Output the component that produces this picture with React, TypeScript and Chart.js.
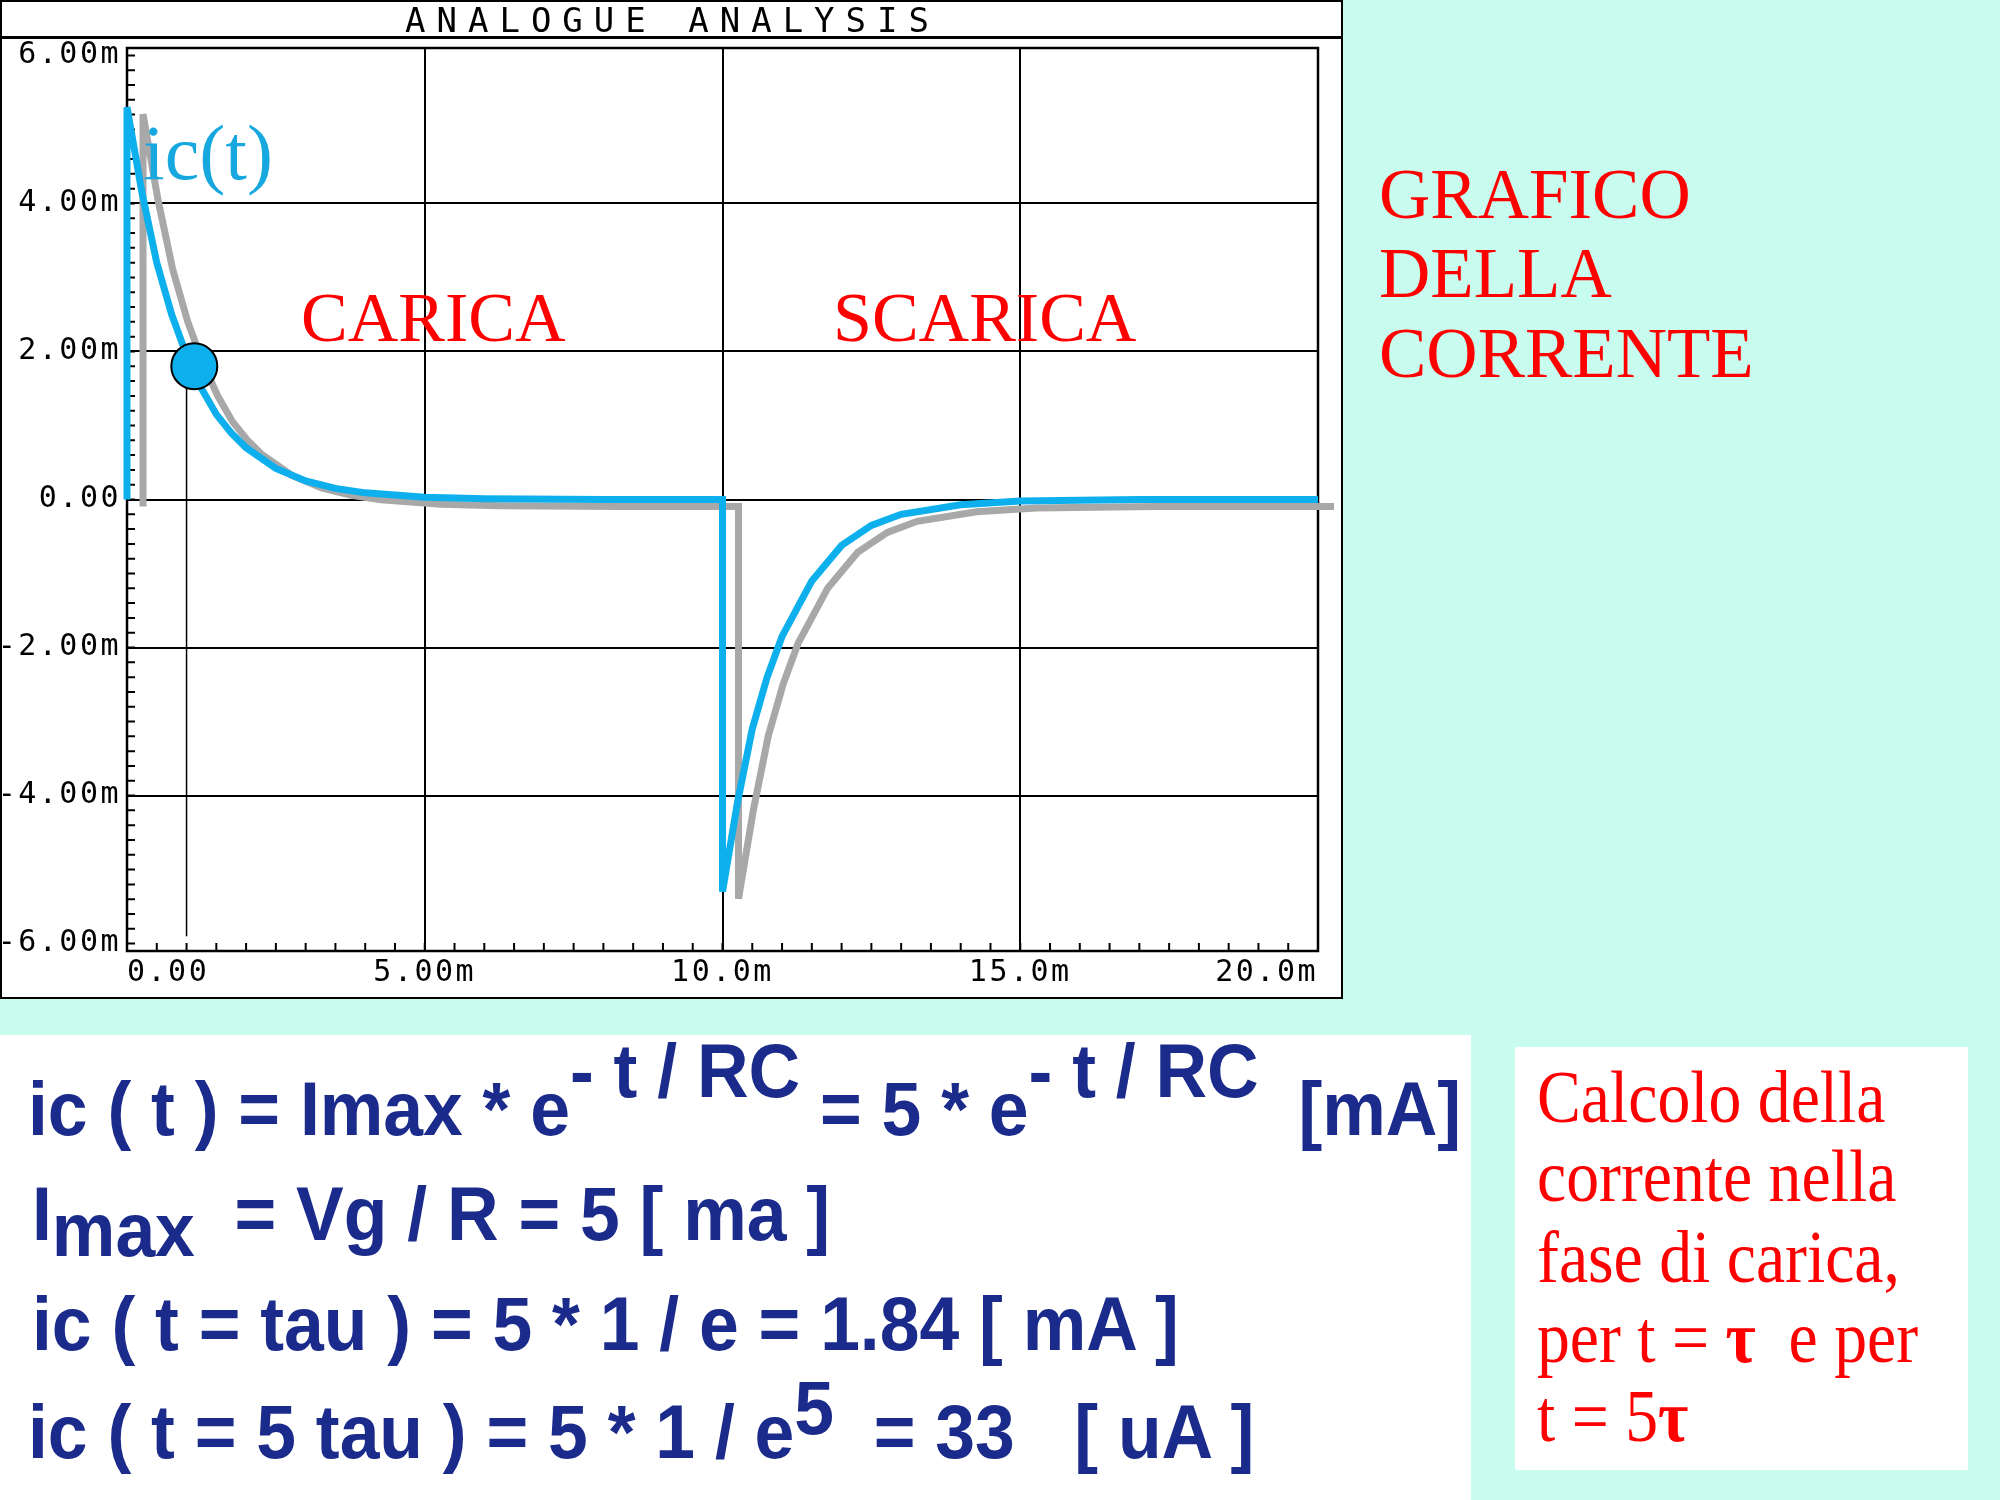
import React, { useEffect, useRef } from 'react';
import { Chart, registerables } from 'chart.js';

Chart.register(...registerables);

// ---- data (time in ms, current in mA) ----
const timeMs = [0, 0, 0.25, 0.5, 0.75, 1.0, 1.25, 1.5, 1.75, 2.0, 2.5, 3.0, 3.5, 4.0, 5.0, 6.0, 8.0, 10.0,
  10.0, 10.25, 10.5, 10.75, 11.0, 11.5, 12.0, 12.5, 13.0, 14.0, 15.0, 17.0, 20.0];
const currentMa = [0, 5.3, 4.15, 3.2, 2.5, 1.95, 1.5, 1.15, 0.9, 0.7, 0.42, 0.25, 0.15, 0.09, 0.03, 0.01, 0, 0,
  -5.3, -4.1, -3.1, -2.4, -1.85, -1.1, -0.62, -0.35, -0.2, -0.07, -0.02, 0, 0];
const tauMarkerT = [1.0, 1.0];
const tauMarkerI = [1.8, -5.9];
const tauPointT = [1.13];
const tauPointI = [1.8];

const xTickValues = [0, 5, 10, 15, 20];
const xTickLabels = ['0.00', '5.00m', '10.0m', '15.0m', '20.0m'];
const yTickValues = [-6, -4, -2, 0, 2, 4, 6];
const yTickLabels = ['-6.00m', '-4.00m', '-2.00m', '0.00', '2.00m', '4.00m', '6.00m'];
const xRange = [0, 20];
const yRange = [-6.1, 6.1];
const xMinorStep = 0.5;
const yMinorStep = 0.2;

const BLUE = '#0DB0EC';
const NAVY = '#1B2B8C';
const RED = '#FF0000';
const MONO = "'DejaVu Sans Mono', monospace";
const SERIF = "'Liberation Serif', 'Times New Roman', serif";
const SANS = "'Liberation Sans', Arial, sans-serif";

const pts = (xs: number[], ys: number[]) => xs.map((x, i) => ({ x, y: ys[i] }));

const decorPlugin = {
  id: 'decor',
  beforeDraw(chart: any) {
    chart.ctx.letterSpacing = '2.5px';
  },
  afterDraw(chart: any) {
    chart.ctx.letterSpacing = '0px';
  },
  beforeDatasetsDraw(chart: any) {
    const { ctx, chartArea: a, scales } = chart;
    ctx.save();
    ctx.strokeStyle = '#000';
    ctx.lineWidth = 2;
    ctx.beginPath();
    const y0 = yTickValues[0];
    const ny = Math.round((yTickValues[yTickValues.length - 1] - y0) / yMinorStep);
    for (let i = 0; i <= ny; i++) {
      const py = scales.y.getPixelForValue(y0 + i * yMinorStep);
      ctx.moveTo(a.left, py);
      ctx.lineTo(a.left + 8, py);
    }
    const nx = Math.round((xRange[1] - xRange[0]) / xMinorStep);
    for (let i = 0; i <= nx; i++) {
      const px = scales.x.getPixelForValue(xRange[0] + i * xMinorStep);
      ctx.moveTo(px, a.bottom);
      ctx.lineTo(px, a.bottom - 8);
    }
    ctx.stroke();
    ctx.lineWidth = 2.5;
    ctx.strokeRect(a.left, a.top, a.right - a.left, a.bottom - a.top);
    ctx.restore();
  },
  beforeDatasetDraw(chart: any, args: any) {
    if (args.meta && args.meta.label === 'ic(t)') {
      const ctx = chart.ctx;
      ctx.save();
      ctx.shadowColor = '#A8A8A8';
      ctx.shadowOffsetX = 16;
      ctx.shadowOffsetY = 7;
      ctx.shadowBlur = 0;
    }
  },
  afterDatasetDraw(chart: any, args: any) {
    if (args.meta && args.meta.label === 'ic(t)') {
      chart.ctx.restore();
    }
  },
};

function T(props: {
  x: number; base: number; size: number; family: string; color: string;
  weight?: string | number; scale?: number; k?: number; spacing?: number; children: React.ReactNode;
}) {
  const k = props.k ?? (props.family === SERIF ? 0.8375 : props.family === MONO ? 0.846 : 0.8465);
  return (
    <div
      style={{
        position: 'absolute',
        left: props.x,
        top: props.base - k * props.size,
        fontSize: props.size,
        lineHeight: `${props.size}px`,
        fontFamily: props.family,
        color: props.color,
        fontWeight: props.weight ?? 'normal',
        whiteSpace: 'pre',
        letterSpacing: props.spacing ? `${props.spacing}px` : undefined,
        transform: props.scale ? `scaleX(${props.scale})` : undefined,
        transformOrigin: 'left center',
      }}
    >
      {props.children}
    </div>
  );
}

const Sup = (p: { dy: number; children: React.ReactNode }) => (
  <span style={{ position: 'relative', top: p.dy }}>{p.children}</span>
);

export default function App() {
  const ref = useRef<HTMLCanvasElement>(null);

  useEffect(() => {
    if (!ref.current) return;
    const gridColor = (edges: number[]) => (c: any) =>
      c.tick && edges.includes(c.tick.value) ? 'rgba(0,0,0,0)' : '#000';
    const chart = new Chart(ref.current, {
      type: 'line',
      data: {
        datasets: [
          {
            label: 'ic(tau)',
            data: pts(tauPointT, tauPointI),
            showLine: false,
            pointRadius: 23,
            pointBackgroundColor: BLUE,
            pointBorderColor: '#000',
            pointBorderWidth: 2,
            order: 0,
          } as any,
          {
            label: 'ic(t)',
            data: pts(timeMs, currentMa),
            borderColor: BLUE,
            borderWidth: 7,
            pointRadius: 0,
            tension: 0,
            clip: false,
            borderJoinStyle: 'miter',
            borderCapStyle: 'butt',
            order: 1,
          } as any,
          {
            label: 'tau',
            data: pts(tauMarkerT, tauMarkerI),
            borderColor: '#000',
            borderWidth: 1.5,
            pointRadius: 0,
            order: 2,
          } as any,
        ],
      },
      options: {
        responsive: false,
        animation: false,
        events: [],
        layout: { padding: { top: 48, right: 20, left: 0, bottom: 0 } },
        plugins: {
          legend: { display: false },
          tooltip: { enabled: false },
          title: { display: false },
        },
        scales: {
          x: {
            type: 'linear',
            min: xRange[0],
            max: xRange[1],
            afterBuildTicks: (s: any) => { s.ticks = xTickValues.map((v) => ({ value: v })); },
            afterFit: (s: any) => { s.height = 48; },
            grid: { color: gridColor([xRange[0], xRange[1]]), lineWidth: 2, drawTicks: false },
            border: { display: false },
            ticks: {
              align: 'inner',
              padding: 4,
              color: '#000',
              maxRotation: 0,
              autoSkip: false,
              font: { family: MONO, size: 30 },
              callback: (v: any) => xTickLabels[xTickValues.indexOf(Number(v))] ?? '',
            },
          } as any,
          y: {
            type: 'linear',
            min: yRange[0],
            max: yRange[1],
            afterBuildTicks: (s: any) => { s.ticks = yTickValues.map((v) => ({ value: v })); },
            afterFit: (s: any) => { s.width = 127; },
            grid: { color: gridColor([-6, 6]), lineWidth: 2, drawTicks: false },
            border: { display: false },
            ticks: {
              padding: 6,
              color: '#000',
              autoSkip: false,
              font: { family: MONO, size: 30 },
              callback: (v: any) => yTickLabels[yTickValues.indexOf(Number(v))] ?? '',
            },
          } as any,
        },
      },
      plugins: [decorPlugin],
    });
    return () => chart.destroy();
  }, []);

  return (
    <div style={{ position: 'relative', width: 2000, height: 1500, background: '#C8FCEE', overflow: 'hidden' }}>
      <style>{'html,body{margin:0;padding:0;}'}</style>
      {/* chart frame */}
      <div style={{ position: 'absolute', left: 0, top: 0, width: 1343, height: 999, boxSizing: 'border-box', border: '2px solid #000', background: '#fff' }} />
      <canvas ref={ref} width={1343} height={999} style={{ position: 'absolute', left: 0, top: 0 }} />
      <div style={{ position: 'absolute', left: 0, top: 36, width: 1343, height: 3, background: '#000' }} />
      <T x={405} base={32} size={34} family={MONO} color="#000" spacing={11}>ANALOGUE ANALYSIS</T>

      {/* chart annotations */}
      <T x={143} base={179} size={78} family={SERIF} color="#18A8E0">ic(t)</T>
      <T x={301} base={342} size={70} family={SERIF} color={RED}>CARICA</T>
      <T x={833} base={342} size={70} family={SERIF} color={RED}>SCARICA</T>

      {/* side title */}
      <T x={1379} base={218} size={71} family={SERIF} color={RED}>GRAFICO</T>
      <T x={1379} base={297} size={71} family={SERIF} color={RED}>DELLA</T>
      <T x={1379} base={377} size={71} family={SERIF} color={RED}>CORRENTE</T>

      {/* formula box */}
      <div style={{ position: 'absolute', left: 0, top: 1035, width: 1471, height: 465, background: '#fff' }} />
      <T x={28} base={1135} size={76} family={SANS} weight="bold" color={NAVY} scale={0.94}>
        {'ic ( t ) = Imax * e'}<Sup dy={-38}>{'- t / RC'}</Sup>{' = 5 * e'}<Sup dy={-38}>{'- t / RC'}</Sup>{'  [mA]'}
      </T>
      <T x={32} base={1240} size={76} family={SANS} weight="bold" color={NAVY} scale={0.94}>
        {'I'}<Sup dy={16}>{'max'}</Sup>{'  = Vg / R = 5 [ ma ]'}
      </T>
      <T x={32} base={1350} size={76} family={SANS} weight="bold" color={NAVY} scale={0.94}>
        {'ic ( t = tau ) = 5 * 1 / e = 1.84 [ mA ]'}
      </T>
      <T x={28} base={1458} size={76} family={SANS} weight="bold" color={NAVY} scale={0.94}>
        {'ic ( t = 5 tau ) = 5 * 1 / e'}<Sup dy={-24}>{'5'}</Sup>{'  = 33   [ uA ]'}
      </T>

      {/* red note box */}
      <div style={{ position: 'absolute', left: 1515, top: 1047, width: 453, height: 423, background: '#fff' }} />
      <T x={1537} base={1122} size={73} family={SERIF} color={RED} scale={0.9}>Calcolo della</T>
      <T x={1537} base={1201} size={73} family={SERIF} color={RED} scale={0.9}>corrente nella</T>
      <T x={1537} base={1282} size={73} family={SERIF} color={RED} scale={0.9}>fase di carica,</T>
      <T x={1537} base={1362} size={73} family={SERIF} color={RED} scale={0.9}>
        {'per t = '}<b>τ</b>{'  e per'}
      </T>
      <T x={1537} base={1441} size={73} family={SERIF} color={RED} scale={0.9}>
        {'t = 5'}<b>τ</b>
      </T>
    </div>
  );
}
